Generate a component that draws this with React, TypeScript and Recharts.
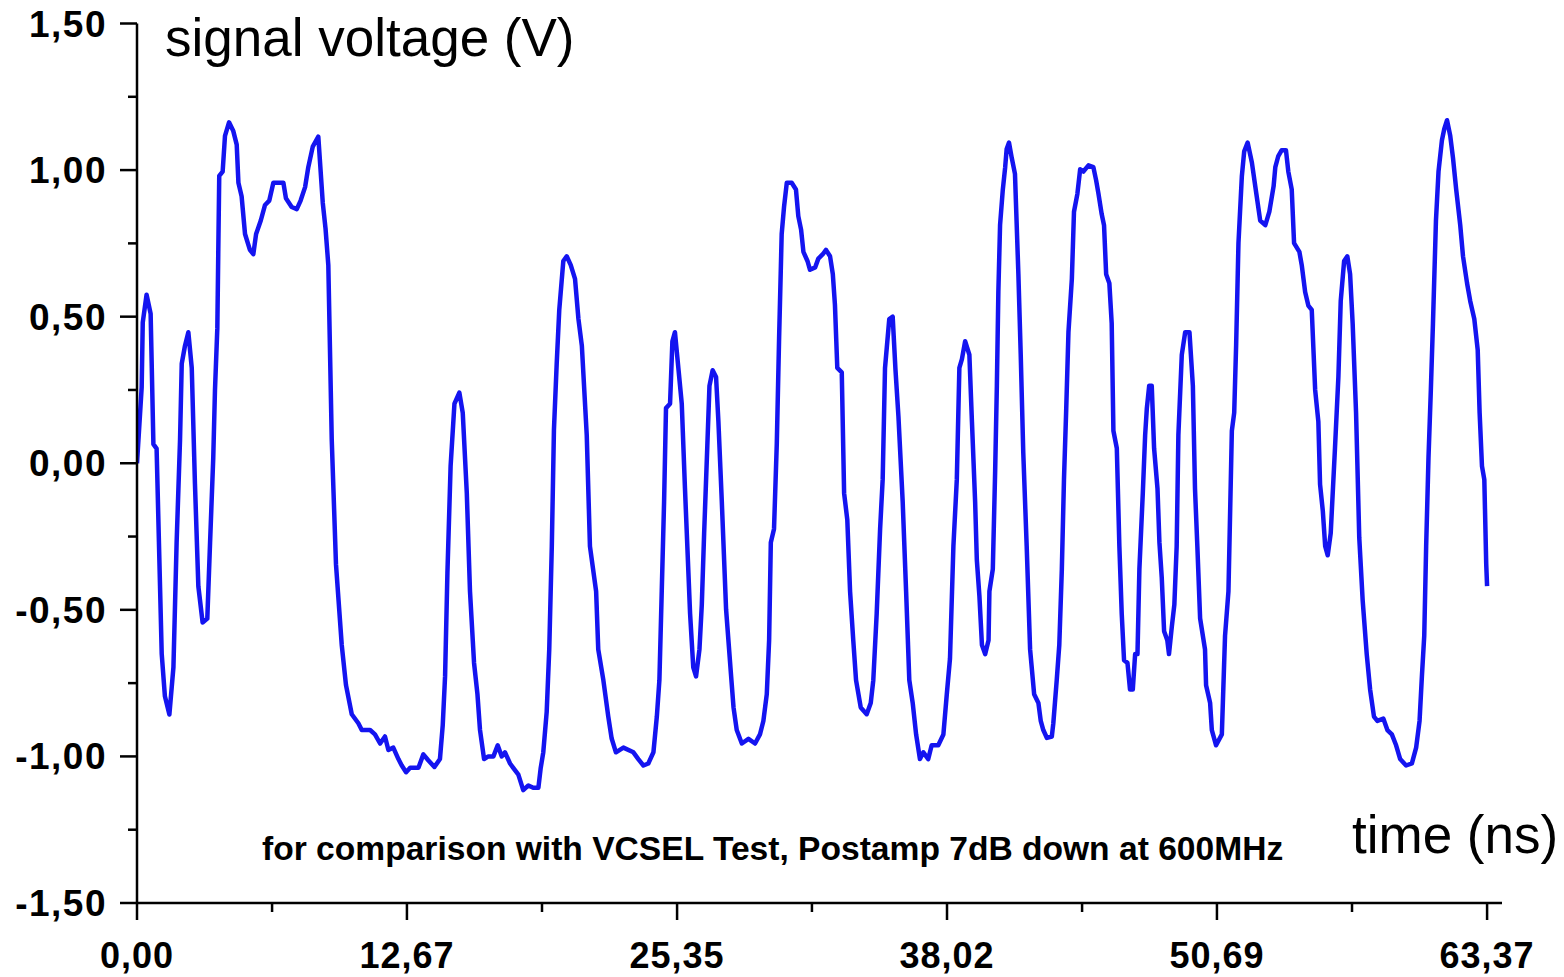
import React from 'react';
import { LineChart, Line, XAxis, YAxis } from 'recharts';

const timeNs = [
  0.0, 0.22, 0.27, 0.45, 0.64, 0.77, 0.92, 1.16, 1.31, 1.52, 1.71, 1.86, 2.02, 2.1, 2.25, 2.41, 2.57, 2.72, 2.88, 3.08,
  3.3, 3.43, 3.58, 3.66, 3.77, 3.86, 4.02, 4.13, 4.32, 4.52, 4.68, 4.76, 4.91, 5.07, 5.3, 5.46, 5.59, 5.81, 6.01, 6.21,
  6.4, 6.63, 6.87, 6.99, 7.26, 7.5, 7.68, 7.89, 8.04, 8.25, 8.51, 8.72, 8.85, 8.98, 9.14, 9.34, 9.61, 9.81, 10.08, 10.39,
  10.55, 10.94, 11.17, 11.41, 11.64, 11.8, 12.03, 12.27, 12.42, 12.63, 12.82, 13.21, 13.44, 13.67, 13.96, 14.22, 14.35, 14.46, 14.57, 14.72,
  14.9, 15.13, 15.29, 15.48, 15.63, 15.82, 15.98, 16.1, 16.29, 16.49, 16.73, 16.93, 17.12, 17.27, 17.51, 17.66, 17.9, 18.13, 18.37, 18.6,
  18.84, 18.95, 19.07, 19.23, 19.35, 19.47, 19.57, 19.7, 19.82, 20.01, 20.17, 20.36, 20.56, 20.72, 20.88, 21.11, 21.26, 21.55, 21.65, 21.89,
  22.12, 22.28, 22.48, 22.83, 23.3, 23.53, 23.77, 24.0, 24.24, 24.4, 24.52, 24.63, 24.74, 24.83, 25.02, 25.13, 25.25, 25.41, 25.57, 25.72,
  25.96, 26.11, 26.24, 26.4, 26.51, 26.62, 26.77, 26.87, 27.02, 27.18, 27.29, 27.45, 27.65, 27.87, 28.0, 28.15, 28.39, 28.7, 29.01, 29.24,
  29.4, 29.56, 29.67, 29.75, 29.9, 30.03, 30.14, 30.26, 30.37, 30.5, 30.73, 30.93, 31.04, 31.17, 31.28, 31.47, 31.59, 31.83, 31.98, 32.19,
  32.34, 32.53, 32.66, 32.76, 32.87, 33.08, 33.19, 33.34, 33.47, 33.62, 33.75, 33.97, 34.25, 34.44, 34.56, 34.72, 34.88, 35.0, 35.11, 35.31,
  35.47, 35.6, 35.74, 35.94, 36.1, 36.25, 36.41, 36.57, 36.75, 36.91, 37.14, 37.3, 37.61, 37.85, 38.01, 38.16, 38.32, 38.48, 38.6, 38.72,
  38.87, 39.07, 39.19, 39.34, 39.42, 39.54, 39.66, 39.81, 39.97, 40.01, 40.17, 40.28, 40.36, 40.43, 40.51, 40.64, 40.75, 40.82, 40.93, 41.06,
  41.21, 41.37, 41.48, 41.6, 41.76, 41.92, 42.11, 42.31, 42.42, 42.54, 42.71, 42.94, 43.01, 43.17, 43.29, 43.41, 43.51, 43.61, 43.72, 43.88,
  43.98, 44.14, 44.27, 44.42, 44.66, 44.89, 45.02, 45.13, 45.28, 45.39, 45.49, 45.64, 45.75, 45.83, 45.99, 46.11, 46.22, 46.33, 46.49, 46.61,
  46.74, 46.85, 46.96, 47.05, 47.21, 47.32, 47.4, 47.51, 47.63, 47.74, 47.9, 47.99, 48.1, 48.21, 48.36, 48.44, 48.57, 48.69, 48.8, 48.88,
  49.04, 49.2, 49.4, 49.56, 49.66, 49.77, 49.9, 50.13, 50.18, 50.37, 50.45, 50.65, 50.92, 51.07, 51.23, 51.39, 51.5, 51.59, 51.7, 51.86,
  51.97, 52.13, 52.33, 52.54, 52.72, 52.96, 53.15, 53.35, 53.43, 53.57, 53.73, 53.93, 54.04, 54.2, 54.31, 54.56, 54.67, 54.83, 54.98, 55.14,
  55.3, 55.45, 55.53, 55.66, 55.77, 55.89, 56.03, 56.23, 56.39, 56.5, 56.66, 56.81, 56.94, 57.06, 57.22, 57.37, 57.53, 57.72, 57.88, 58.06,
  58.22, 58.5, 58.69, 58.9, 59.1, 59.29, 59.57, 59.84, 60.04, 60.2, 60.31, 60.42, 60.51, 60.62, 60.73, 60.83, 60.97, 61.09, 61.25, 61.36,
  61.49, 61.64, 61.77, 61.92, 62.11, 62.24, 62.43, 62.58, 62.77, 62.93, 63.02, 63.13, 63.24, 63.33, 63.37,
];

const voltage = [
  0.0, 0.26, 0.48, 0.575, 0.51, 0.065, 0.05, -0.65, -0.795, -0.857, -0.696, -0.27, 0.08, 0.34, 0.4, 0.447, 0.325, -0.07, -0.42, -0.543,
  -0.53, -0.27, 0.02, 0.25, 0.46, 0.98, 0.995, 1.117, 1.163, 1.133, 1.087, 0.957, 0.911, 0.782, 0.728, 0.713, 0.782, 0.828, 0.881, 0.896,
  0.957, 0.957, 0.957, 0.904, 0.874, 0.867, 0.896, 0.942, 1.01, 1.08, 1.114, 0.888, 0.8, 0.676, 0.082, -0.345, -0.62, -0.757, -0.856, -0.887,
  -0.91, -0.91, -0.925, -0.956, -0.932, -0.978, -0.97, -1.009, -1.03, -1.054, -1.039, -1.039, -0.993, -1.013, -1.036, -1.009, -0.894, -0.727, -0.375, -0.01,
  0.203, 0.241, 0.172, -0.102, -0.437, -0.681, -0.788, -0.91, -1.009, -1.0, -1.0, -0.962, -1.0, -0.986, -1.024, -1.039, -1.062, -1.115, -1.099, -1.107,
  -1.107, -1.039, -0.986, -0.848, -0.635, -0.283, 0.113, 0.34, 0.523, 0.69, 0.706, 0.676, 0.629, 0.492, 0.401, 0.096, -0.283, -0.437, -0.635, -0.74,
  -0.864, -0.939, -0.986, -0.97, -0.986, -1.009, -1.031, -1.024, -0.986, -0.864, -0.74, -0.437, -0.132, 0.188, 0.203, 0.416, 0.447, 0.325, 0.203, -0.085,
  -0.512, -0.696, -0.727, -0.635, -0.483, -0.239, 0.06, 0.264, 0.317, 0.294, 0.142, -0.132, -0.498, -0.711, -0.833, -0.91, -0.956, -0.94, -0.956, -0.925,
  -0.879, -0.788, -0.604, -0.27, -0.224, 0.066, 0.431, 0.782, 0.874, 0.957, 0.957, 0.934, 0.843, 0.797, 0.721, 0.69, 0.66, 0.668, 0.698, 0.713,
  0.728, 0.706, 0.645, 0.54, 0.325, 0.31, -0.102, -0.193, -0.437, -0.604, -0.74, -0.833, -0.856, -0.818, -0.74, -0.512, -0.224, -0.056, 0.325, 0.492,
  0.5, 0.32, 0.16, -0.132, -0.437, -0.74, -0.818, -0.925, -1.009, -0.986, -1.009, -0.962, -0.962, -0.925, -0.788, -0.666, -0.283, -0.056, 0.325, 0.355,
  0.416, 0.37, 0.142, -0.132, -0.33, -0.452, -0.62, -0.651, -0.604, -0.437, -0.361, -0.026, 0.264, 0.584, 0.812, 0.934, 1.01, 1.072, 1.094, 1.041,
  0.987, 0.645, 0.37, 0.035, -0.283, -0.635, -0.788, -0.818, -0.879, -0.91, -0.937, -0.932, -0.887, -0.74, -0.62, -0.361, -0.056, 0.172, 0.447, 0.629,
  0.858, 0.919, 1.003, 0.995, 1.016, 1.01, 0.965, 0.919, 0.85, 0.812, 0.645, 0.614, 0.477, 0.111, 0.051, -0.283, -0.512, -0.672, -0.681, -0.772,
  -0.772, -0.651, -0.651, -0.361, -0.102, 0.096, 0.188, 0.264, 0.264, 0.051, -0.087, -0.27, -0.391, -0.573, -0.604, -0.651, -0.559, -0.483, -0.283, 0.096,
  0.37, 0.447, 0.447, 0.264, -0.087, -0.283, -0.529, -0.635, -0.757, -0.818, -0.91, -0.962, -0.925, -0.589, -0.437, 0.111, 0.172, 0.401, 0.751, 0.98,
  1.064, 1.094, 1.026, 0.919, 0.828, 0.812, 0.858, 0.945, 1.01, 1.048, 1.068, 1.068, 0.995, 0.934, 0.751, 0.721, 0.676, 0.584, 0.538, 0.523,
  0.25, 0.142, -0.072, -0.163, -0.283, -0.314, -0.239, 0.051, 0.294, 0.553, 0.69, 0.706, 0.645, 0.477, 0.172, -0.254, -0.468, -0.651, -0.772, -0.864,
  -0.879, -0.871, -0.91, -0.925, -0.962, -1.009, -1.031, -1.024, -0.97, -0.879, -0.727, -0.589, -0.283, 0.02, 0.25, 0.478, 0.828, 0.995, 1.102, 1.14,
  1.17, 1.117, 1.041, 0.934, 0.812, 0.706, 0.614, 0.553, 0.492, 0.386, 0.172, -0.01, -0.056, -0.345, -0.419,
];

const xMajorTicks = [0, 12.67, 25.35, 38.02, 50.69, 63.37];
const xMinorTicks = [6.34, 19.01, 31.68, 44.36, 57.03];
const yMajorTicks = [-1.5, -1.0, -0.5, 0, 0.5, 1.0, 1.5];
const yMinorTicks = [-1.25, -0.75, -0.25, 0.25, 0.75, 1.25];

const data = timeNs.map((t, i) => ({ t, v: voltage[i] }));

const FONT = '"Liberation Sans", Arial, Helvetica, sans-serif';
const fmt = (n: number) => n.toFixed(2).replace('.', ',');

const XTick = (props: any) => {
  const { x, y, payload } = props;
  const major = xMajorTicks.includes(payload.value);
  return (
    <g>
      <line x1={x} x2={x} y1={y} y2={y + (major ? 17 : 9)} stroke="#000" strokeWidth={2.5} />
      {major && (
        <text x={x} y={y + 65} textAnchor="middle" fontFamily={FONT} fontWeight="bold" fontSize={36} letterSpacing={1} fill="#000">
          {fmt(payload.value)}
        </text>
      )}
    </g>
  );
};

const YTick = (props: any) => {
  const { x, y, payload } = props;
  const major = yMajorTicks.includes(payload.value);
  return (
    <g>
      <line x1={x - (major ? 17 : 9)} x2={x} y1={y} y2={y} stroke="#000" strokeWidth={2.5} />
      {major && (
        <text x={x - 30} y={y + 13} textAnchor="end" fontFamily={FONT} fontWeight="bold" fontSize={37} letterSpacing={1.5} fill="#000">
          {fmt(payload.value)}
        </text>
      )}
    </g>
  );
};

export default function App() {
  return (
    <div style={{ position: 'absolute', left: 0, top: 0, width: 1564, height: 977, background: '#fff' }}>
      <LineChart width={1564} height={977} data={data} margin={{ top: 23.5, right: 62, bottom: 44, left: 97 }}>
        <XAxis
          type="number"
          dataKey="t"
          domain={[0, 64.07]}
          ticks={[...xMajorTicks, ...xMinorTicks].sort((a, b) => a - b)}
          allowDataOverflow
          height={30}
          tickSize={0}
          tickMargin={0}
          tickLine={false}
          axisLine={{ stroke: '#000', strokeWidth: 2.5 }}
          tick={<XTick />}
          interval={0}
        />
        <YAxis
          type="number"
          domain={[-1.5, 1.5]}
          ticks={[...yMajorTicks, ...yMinorTicks].sort((a, b) => a - b)}
          allowDataOverflow
          width={40}
          tickSize={0}
          tickMargin={0}
          tickLine={false}
          axisLine={{ stroke: '#000', strokeWidth: 2.5 }}
          tick={<YTick />}
          interval={0}
        />
        <Line
          type="linear"
          dataKey="v"
          stroke="#1414f0"
          strokeWidth={4.5}
          strokeLinejoin="round"
          dot={false}
          isAnimationActive={false}
        />
      </LineChart>
      <svg width={1564} height={977} style={{ position: 'absolute', left: 0, top: 0, pointerEvents: 'none' }}>
        <text x={165} y={56} fontFamily={FONT} fontSize={53} fill="#000">signal voltage (V)</text>
        <text x={1352} y={853} fontFamily={FONT} fontSize={53} fill="#000">time (ns)</text>
        <text x={262} y={860} fontFamily={FONT} fontWeight="bold" fontSize={33.6} fill="#000">
          for comparison with VCSEL Test, Postamp 7dB down at 600MHz
        </text>
      </svg>
    </div>
  );
}
